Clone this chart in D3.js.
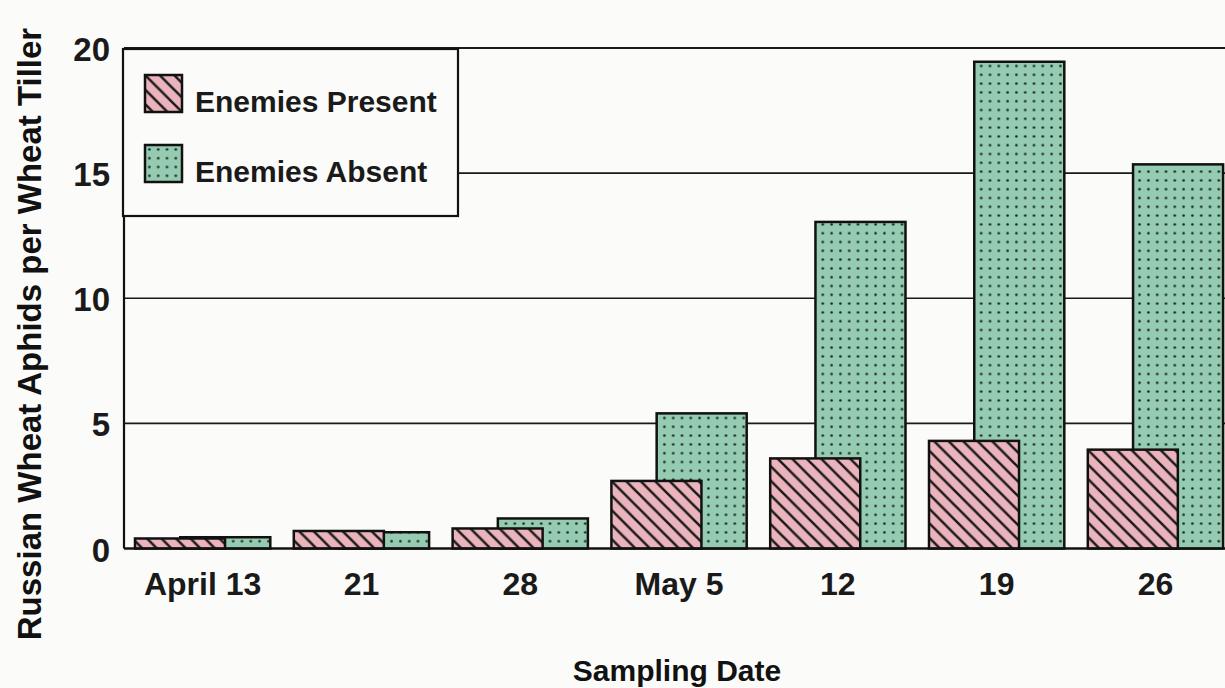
<!DOCTYPE html>
<html>
<head>
<meta charset="utf-8">
<script src="https://cdn.jsdelivr.net/npm/d3@7/dist/d3.min.js"></script>
<style>
  html, body { margin: 0; padding: 0; background: #fbfbf9; }
  svg { display: block; font-family: "Liberation Sans", Arial, sans-serif; }
</style>
</head>
<body>
<svg id="chart" width="1225" height="688"></svg>
<script>
// sampling dates and aphid counts
const dates = ["April 13", "21", "28", "May 5", "12", "19", "26"];
const enemiesPresent = [0.4, 0.7, 0.8, 2.7, 3.6, 4.3, 3.95];
const enemiesAbsent  = [0.45, 0.65, 1.2, 5.4, 13.05, 19.45, 15.35];
const yTicks = [0, 5, 10, 15, 20];
const seriesNames = ["Enemies Present", "Enemies Absent"];

const svg = d3.select("#chart");

const plotLeft = 124, plotRight = 1225, plotTop = 48, plotBottom = 548.5;

const x = d3.scaleBand()
    .domain(dates)
    .range([135, 135 + 7 * 158.8])
    .padding(0);

const y = d3.scaleLinear()
    .domain([0, 20])
    .range([plotBottom, plotTop]);

const bw = x.bandwidth();
const barW = bw * 0.567;
const offset = bw * 0.285;

// patterns
const defs = svg.append("defs");
const hs = 14.5;
const hatch = defs.append("pattern")
    .attr("id", "hatch")
    .attr("patternUnits", "userSpaceOnUse")
    .attr("width", hs).attr("height", hs);
hatch.append("rect").attr("width", hs).attr("height", hs).attr("fill", "#ebb3bc");
hatch.append("path")
    .attr("d", `M-3,-3 L${hs + 3},${hs + 3} M-3,${hs - 3} L3,${hs + 3} M${hs - 3},-3 L${hs + 3},3`)
    .attr("stroke", "#1a1a1a").attr("stroke-width", 2.5);

const ds = 8.8;
const dots = defs.append("pattern")
    .attr("id", "dots")
    .attr("patternUnits", "userSpaceOnUse")
    .attr("width", ds).attr("height", ds);
dots.append("rect").attr("width", ds).attr("height", ds).attr("fill", "#95ccb1");
dots.append("circle").attr("cx", ds / 2).attr("cy", ds / 2).attr("r", 1.3).attr("fill", "#1a2520");

// grid lines
svg.append("g")
    .selectAll("line")
    .data(yTicks)
    .join("line")
    .attr("x1", plotLeft).attr("x2", plotRight)
    .attr("y1", d => y(d)).attr("y2", d => y(d))
    .attr("stroke", "#1a1a1a")
    .attr("stroke-width", d => d === 20 || d === 0 ? 2.2 : 1.6);

// bars: absent behind, present on top
const groups = svg.append("g")
    .selectAll("g")
    .data(dates)
    .join("g");

groups.append("rect")
    .attr("x", d => x(d) + offset)
    .attr("y", (d, i) => y(enemiesAbsent[i]))
    .attr("width", barW)
    .attr("height", (d, i) => y(0) - y(enemiesAbsent[i]))
    .attr("fill", "url(#dots)")
    .attr("stroke", "#111").attr("stroke-width", 2.5);

groups.append("rect")
    .attr("x", d => x(d))
    .attr("y", (d, i) => y(enemiesPresent[i]))
    .attr("width", barW)
    .attr("height", (d, i) => y(0) - y(enemiesPresent[i]))
    .attr("fill", "url(#hatch)")
    .attr("stroke", "#111").attr("stroke-width", 2.5);

// left axis line + baseline
svg.append("line")
    .attr("x1", plotLeft).attr("x2", plotLeft)
    .attr("y1", plotTop).attr("y2", plotBottom)
    .attr("stroke", "#111").attr("stroke-width", 2.2);
svg.append("line")
    .attr("x1", plotLeft).attr("x2", plotRight)
    .attr("y1", plotBottom).attr("y2", plotBottom)
    .attr("stroke", "#111").attr("stroke-width", 2.2);

// y tick labels
svg.append("g")
    .selectAll("text")
    .data(yTicks)
    .join("text")
    .attr("x", 110)
    .attr("y", d => y(d) + 13)
    .attr("text-anchor", "end")
    .attr("font-size", 33)
    .attr("font-weight", "bold")
    .attr("fill", "#1a1a1a")
    .text(d => d);

// x tick labels
svg.append("g")
    .selectAll("text")
    .data(dates)
    .join("text")
    .attr("x", d => x(d) + (offset + barW) / 2)
    .attr("y", 595)
    .attr("text-anchor", "middle")
    .attr("font-size", 32)
    .attr("font-weight", "bold")
    .attr("fill", "#1a1a1a")
    .text(d => d);

// axis titles
svg.append("text")
    .attr("transform", "translate(41,334) rotate(-90)")
    .attr("text-anchor", "middle")
    .attr("font-size", 33)
    .attr("font-weight", "bold")
    .attr("fill", "#111")
    .text("Russian Wheat Aphids per Wheat Tiller");

svg.append("text")
    .attr("x", 677)
    .attr("y", 681)
    .attr("text-anchor", "middle")
    .attr("font-size", 30)
    .attr("font-weight", "bold")
    .attr("fill", "#111")
    .text("Sampling Date");

// legend
const legend = svg.append("g");
legend.append("rect")
    .attr("x", 123).attr("y", 49)
    .attr("width", 335).attr("height", 167)
    .attr("fill", "#fbfbf9")
    .attr("stroke", "#111").attr("stroke-width", 2.2);

const legItems = legend.selectAll("g")
    .data(seriesNames)
    .join("g")
    .attr("transform", (d, i) => `translate(145,${75 + i * 70})`);

legItems.append("rect")
    .attr("width", 37).attr("height", 37)
    .attr("fill", (d, i) => i === 0 ? "url(#hatch)" : "url(#dots)")
    .attr("stroke", "#111").attr("stroke-width", 2.5);

legItems.append("text")
    .attr("x", 50).attr("y", 37)
    .attr("font-size", 30)
    .attr("font-weight", "bold")
    .attr("fill", "#1a1a1a")
    .text(d => d);
</script>
</body>
</html>
